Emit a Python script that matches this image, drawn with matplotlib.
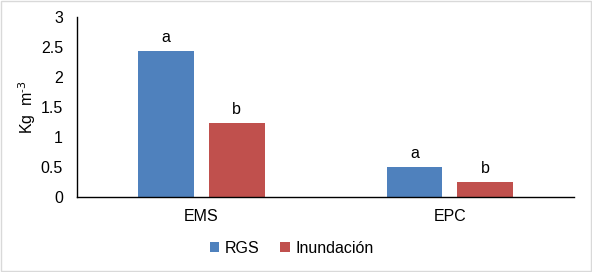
import matplotlib.pyplot as plt
import numpy as np

plt.rcParams['font.family'] = ['Liberation Sans', 'DejaVu Sans']

categories = ["EMS", "EPC"]
series = ["RGS", "Inundación"]
rgs = [2.43, 0.50]
inund = [1.23, 0.25]
rgs_letters = ["a", "a"]
inund_letters = ["b", "b"]

colors = ["#4F81BD", "#C0504D"]
fs = 11.5

fig = plt.figure(figsize=(5.92, 2.72), dpi=100)
ax = fig.add_axes([0.130, 0.276, 0.840, 0.662])

x = np.arange(len(categories))
w = 0.225
off = 0.1425

b1 = ax.bar(x - off, rgs, w, color=colors[0], label=series[0])
b2 = ax.bar(x + off, inund, w, color=colors[1], label=series[1])

for bars, letters in ((b1, rgs_letters), (b2, inund_letters)):
    for bar, t in zip(bars, letters):
        ax.text(bar.get_x() + bar.get_width() / 2, bar.get_height() + 0.1, t,
                ha="center", va="bottom", fontsize=fs)

ax.set_xlim(-0.5, 1.5)
ax.set_ylim(0, 3)
ax.set_yticks(np.arange(0, 3.01, 0.5))
ax.set_yticklabels(["0", "0.5", "1", "1.5", "2", "2.5", "3"])
ax.set_xticks(x)
ax.set_xticklabels(categories)
ax.tick_params(length=0, labelsize=fs)
ax.tick_params(axis="y", pad=10)
ax.tick_params(axis="x", pad=9)
for s in ("top", "right"):
    ax.spines[s].set_visible(False)
for s in ("left", "bottom"):
    ax.spines[s].set_color("black")
    ax.spines[s].set_linewidth(1)

ax.set_ylabel("Kg  m$^{\\mathregular{\u2010}3}$", fontsize=fs, va="center")
ax.yaxis.set_label_coords(-0.1, 0.5)

fig.legend(loc="center", bbox_to_anchor=(0.493, 0.088), ncol=2, frameon=False,
           fontsize=fs, handlelength=0.6, handleheight=0.6, handletextpad=0.35,
           columnspacing=1.3)

fig.patches.append(plt.Rectangle((0.002, 0.004), 0.996, 0.992, transform=fig.transFigure,
                                 fill=False, edgecolor="#D9D9D9", linewidth=1))

plt.savefig("out.png", dpi=100)
